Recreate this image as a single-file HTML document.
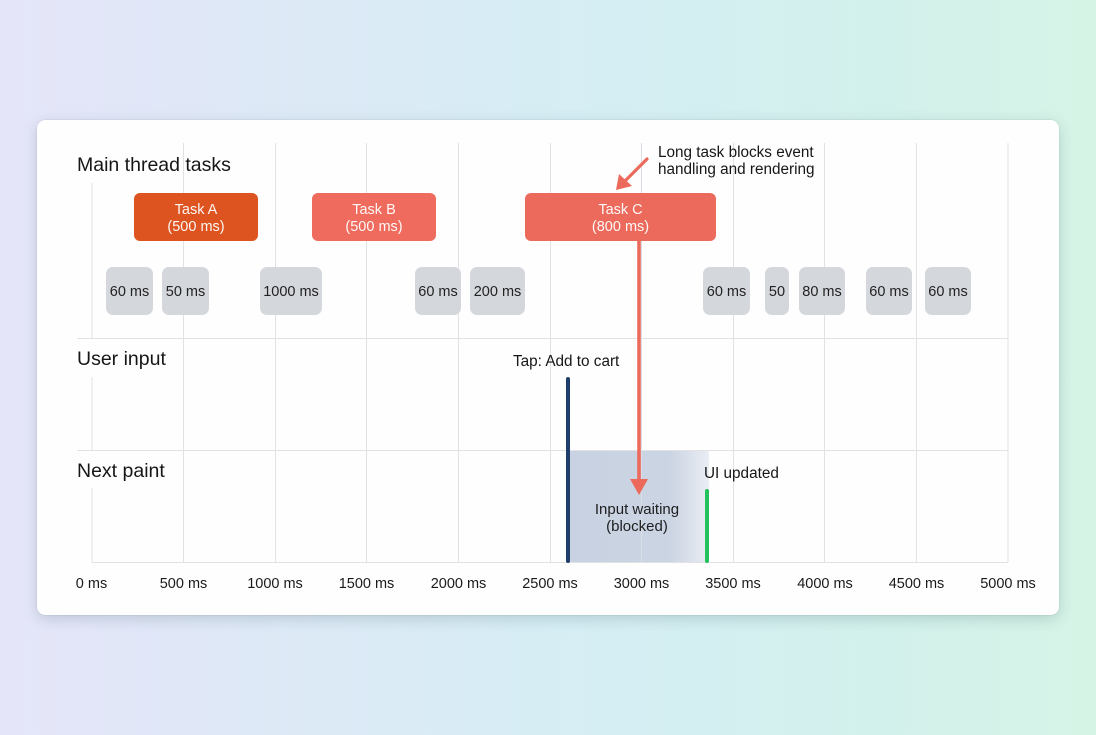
<!DOCTYPE html>
<html><head><meta charset="utf-8">
<style>
html,body{margin:0;padding:0;width:1096px;height:735px;overflow:hidden;}
body{background:linear-gradient(90deg,#E5E5F9 0%,#DCEAF6 30%,#D5EEF4 55%,#D3F1EC 80%,#D6F4E6 100%);font-family:"Liberation Sans",Arial,sans-serif;}
.card{position:absolute;left:37px;top:120px;width:1022px;height:495px;background:#FEFEFE;border-radius:8px;box-shadow:0 4px 14px rgba(60,90,100,0.22),0 0 1px rgba(0,0,0,0.25);}
svg{position:absolute;left:0;top:0;}
</style></head><body>
<div class="card"></div>
<svg width="1096" height="735" viewBox="0 0 1096 735" font-family="Liberation Sans, Arial, sans-serif">
<defs>
<linearGradient id="sh" x1="0" x2="1" y1="0" y2="0">
<stop offset="0" stop-color="#C8D2E2"/>
<stop offset="0.72" stop-color="#CBD4E3"/>
<stop offset="1" stop-color="#E9EDF4"/>
</linearGradient>
</defs>
<rect x="568" y="450.5" width="141" height="111.5" fill="url(#sh)"/>
<g stroke="#E2E2E4" stroke-width="1">
<line x1="92" y1="183" x2="92" y2="338"/>
<line x1="92" y1="377" x2="92" y2="450"/>
<line x1="92" y1="488" x2="92" y2="562"/>
<line x1="183.5" y1="143" x2="183.5" y2="562"/>
<line x1="275.5" y1="143" x2="275.5" y2="562"/>
<line x1="366.5" y1="143" x2="366.5" y2="562"/>
<line x1="458.5" y1="143" x2="458.5" y2="562"/>
<line x1="550.5" y1="143" x2="550.5" y2="562"/>
<line x1="641.5" y1="143" x2="641.5" y2="562" stroke="#D8DDE6"/>
<line x1="733.5" y1="143" x2="733.5" y2="562"/>
<line x1="824.5" y1="143" x2="824.5" y2="562"/>
<line x1="916.5" y1="143" x2="916.5" y2="562"/>
<line x1="1008" y1="143" x2="1008" y2="562"/>
<line x1="77" y1="338.5" x2="1008" y2="338.5"/>
<line x1="77" y1="450.5" x2="1008" y2="450.5"/>
<line x1="92" y1="562.5" x2="1008" y2="562.5"/>
</g>
<g fill="#161616" font-size="19.5">
<text x="77" y="171">Main thread tasks</text>
<text x="77" y="365">User input</text>
<text x="77" y="477">Next paint</text>
</g>
<rect x="134" y="193" width="124" height="48" rx="6" fill="#DD5420"/>
<rect x="312" y="193" width="124" height="48" rx="6" fill="#EE6B5D"/>
<rect x="525" y="193" width="191" height="48" rx="6" fill="#EC6A5C"/>
<g fill="#FFFFFF" font-size="14.5" text-anchor="middle" fill-opacity="0.95">
<text x="196" y="214">Task A</text><text x="196" y="231">(500 ms)</text>
<text x="374" y="214">Task B</text><text x="374" y="231">(500 ms)</text>
<text x="620.5" y="214">Task C</text><text x="620.5" y="231">(800 ms)</text>
</g>
<g fill="#D4D7DC">
<rect x="106" y="267" width="47" height="48" rx="7"/>
<rect x="162" y="267" width="47" height="48" rx="7"/>
<rect x="260" y="267" width="62" height="48" rx="7"/>
<rect x="415" y="267" width="46" height="48" rx="7"/>
<rect x="470" y="267" width="55" height="48" rx="7"/>
<rect x="703" y="267" width="47" height="48" rx="7"/>
<rect x="765" y="267" width="24" height="48" rx="7"/>
<rect x="799" y="267" width="46" height="48" rx="7"/>
<rect x="866" y="267" width="46" height="48" rx="7"/>
<rect x="925" y="267" width="46" height="48" rx="7"/>
</g>
<g fill="#222" font-size="14.5" text-anchor="middle">
<text x="129.5" y="296">60 ms</text>
<text x="185.5" y="296">50 ms</text>
<text x="291" y="296">1000 ms</text>
<text x="438" y="296">60 ms</text>
<text x="497.5" y="296">200 ms</text>
<text x="726.5" y="296">60 ms</text>
<text x="777" y="296">50</text>
<text x="822" y="296">80 ms</text>
<text x="889" y="296">60 ms</text>
<text x="948" y="296">60 ms</text>
</g>
<g fill="#161616" font-size="15.3">
<text x="658" y="157">Long task blocks event</text>
<text x="658" y="174">handling and rendering</text>
<text x="513" y="366">Tap: Add to cart</text>
<text x="704" y="478">UI updated</text>
</g>
<g fill="#1E1E1E" font-size="15" text-anchor="middle">
<text x="637" y="514">Input waiting</text>
<text x="637" y="531">(blocked)</text>
</g>
<line x1="647" y1="159" x2="625" y2="181" stroke="#EC6A5C" stroke-width="3.2" stroke-linecap="round"/>
<polygon points="616,190 619,174 632,186" fill="#EC6A5C"/>
<line x1="639" y1="241" x2="639" y2="482" stroke="#EC6A5C" stroke-width="3.6"/>
<polygon points="630,479 648,479 639,495" fill="#EC6A5C"/>
<line x1="568" y1="379" x2="568" y2="561" stroke="#213E6B" stroke-width="4" stroke-linecap="round"/>
<line x1="707" y1="491" x2="707" y2="561" stroke="#22C25C" stroke-width="4" stroke-linecap="round"/>
<g fill="#1A1A1A" font-size="14.5" text-anchor="middle">
<text x="91.5" y="588">0 ms</text>
<text x="183.5" y="588">500 ms</text>
<text x="275" y="588">1000 ms</text>
<text x="366.5" y="588">1500 ms</text>
<text x="458.5" y="588">2000 ms</text>
<text x="550" y="588">2500 ms</text>
<text x="641.5" y="588">3000 ms</text>
<text x="733" y="588">3500 ms</text>
<text x="825" y="588">4000 ms</text>
<text x="916.5" y="588">4500 ms</text>
<text x="1008" y="588">5000 ms</text>
</g>
</svg>
</body></html>
